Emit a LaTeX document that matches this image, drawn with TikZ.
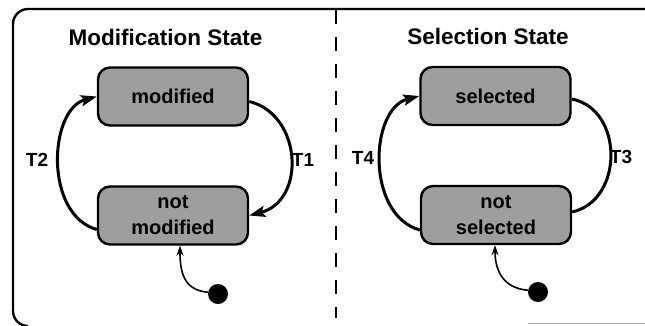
\documentclass[tikz,border=0pt]{standalone}
\usepackage{fontspec}
\setmainfont{Liberation Sans}
\usetikzlibrary{arrows.meta}

\begin{document}
\begin{tikzpicture}[x=1pt,y=-1pt,
  statebox/.style={draw=black, line width=2.4pt, fill=black!38, rounded corners=12pt,
    minimum width=150pt, minimum height=58pt, align=center, inner sep=0pt,
    font=\bfseries\fontsize{20}{26}\selectfont},
  title/.style={font=\bfseries\fontsize{22.5}{26}\selectfont},
  tlabel/.style={font=\bfseries\fontsize{19}{22}\selectfont},
  trans/.style={line width=3pt, -{Stealth[length=16pt,width=11pt,inset=3pt]}},
  plainarc/.style={line width=3pt},
  init/.style={line width=1.6pt, -{Stealth[length=10pt,width=7pt]}},
  initdot/.style={circle, fill=black, minimum size=20pt, inner sep=0pt},
]
\useasboundingbox (0,0) rectangle (645,325);

% outer frame, open on the right
\draw[line width=2.4pt] (660,9) -- (28,9)
  arc[start angle=270, end angle=180, radius=15] -- (13,311)
  arc[start angle=180, end angle=90, radius=15];
\draw[black!35, line width=1pt] (528,323.5) -- (645,323.5);

% divider between the two regions
\draw[line width=2pt, dash pattern=on 14pt off 13pt] (336,10) -- (336,318);

% titles
\node[title] (t1) at (165.5,37) {Modification State};
\node[title] (t2) at (488,36) {Selection State};

% states
\node[statebox] (m)  at (173,96.5)  {modified};
\node[statebox] (nm) at (173,215.5) {not\\modified};
\node[statebox] (s)  at (495.5,96)  {selected};
\node[statebox] (ns) at (496,215)   {not\\selected};

% transitions
\draw[trans] ([yshift=-5pt]m.east) .. controls +(53,13) and +(57,-15) .. (nm.east);
\draw[trans] ([yshift=-14pt]nm.west) .. controls +(-53,-15) and +(-48,13) .. (m.west);
\draw[plainarc] ([yshift=-3pt]s.east) .. controls +(52,10) and +(52,-12) .. ([yshift=3pt]ns.east);
\draw[trans] ([yshift=-15pt]ns.west) .. controls +(-54,-15) and +(-50,13) .. (s.west);

\node[tlabel] (l1) at (303,160) {T1};
\node[tlabel] (l2) at (37,160)  {T2};
\node[tlabel] (l3) at (621,157) {T3};
\node[tlabel] (l4) at (363,158) {T4};

% initial states
\node[initdot] (d1) at (218,294) {};
\node[initdot] (d2) at (538,292) {};
\draw[init] (d1.170) .. controls +(-25,-2) and +(0,25) .. ([xshift=7pt]nm.south);
\draw[init] (d2.170) .. controls +(-25,-2) and +(0,25) .. ([xshift=-1pt]ns.south);
\end{tikzpicture}
\end{document}
